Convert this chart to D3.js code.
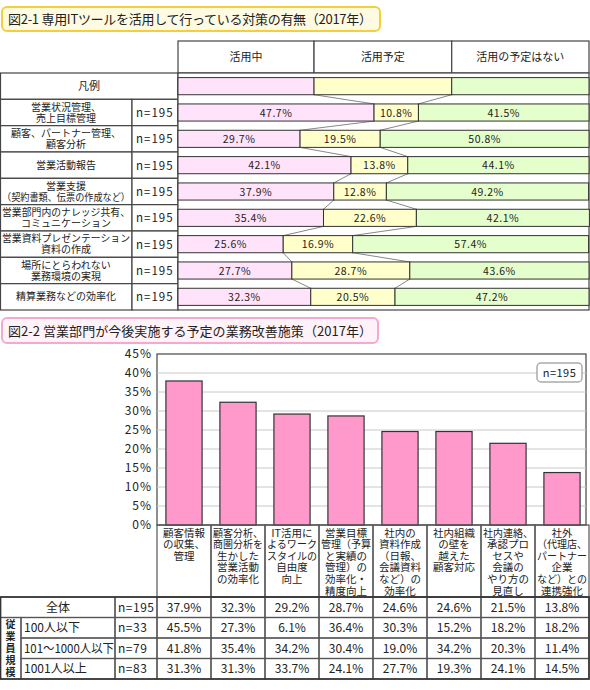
<!DOCTYPE html>
<html><head><meta charset="utf-8">
<script src="https://cdn.jsdelivr.net/npm/d3@7"></script>
<style>body{margin:0;background:#fff}svg{display:block;font-family:"Noto Sans CJK JP","Noto Sans",sans-serif}
.ml{font-family:"Liberation Sans","Noto Sans CJK JP",sans-serif}</style>
</head><body><svg id="c" width="590" height="690"></svg>
<script>
// ---------- DATA ----------
const title1 = "図2-1 専用ITツールを活用して行っている対策の有無（2017年）";
const title2 = "図2-2 営業部門が今後実施する予定の業務改善施策（2017年）";
const topHeaders = ["活用中", "活用予定", "活用の予定はない"];
const legendLabel = "凡例";
const legendShares = [33.1, 33.5, 33.4];
const topCategories = [
  ["営業状況管理、", "売上目標管理"],
  ["顧客、パートナー管理、", "顧客分析"],
  ["営業活動報告"],
  ["営業支援", "（契約書類、伝票の作成など）"],
  ["営業部門内のナレッジ共有、", "コミュニケーション"],
  ["営業資料プレゼンテーション", "資料の作成"],
  ["場所にとらわれない", "業務環境の実現"],
  ["精算業務などの効率化"]
];
const topN = ["n=195", "n=195", "n=195", "n=195", "n=195", "n=195", "n=195", "n=195"];
const topUsing   = [47.7, 29.7, 42.1, 37.9, 35.4, 25.6, 27.7, 32.3];
const topPlanned = [10.8, 19.5, 13.8, 12.8, 22.6, 16.9, 28.7, 20.5];
const topNone    = [41.5, 50.8, 44.1, 49.2, 42.1, 57.4, 43.6, 47.2];

const bottomCategories = [
  ["顧客情報", "の収集、", "管理"],
  ["顧客分析、", "商圏分析を", "生かした", "営業活動", "の効率化"],
  ["IT活用に", "よるワーク", "スタイルの", "自由度", "向上"],
  ["営業目標", "管理（予算", "と実績の", "管理）の", "効率化・", "精度向上"],
  ["社内の", "資料作成", "（日報、", "会議資料", "など）の", "効率化"],
  ["社内組織", "の壁を", "越えた", "顧客対応"],
  ["社内連絡、", "承認プロ", "セスや", "会議の", "やり方の", "見直し"],
  ["社外", "（代理店、", "パートナー", "企業", "など）との", "連携強化"]
];
const yTicks = [0, 5, 10, 15, 20, 25, 30, 35, 40, 45];
const legendN = "n=195";
const groupNames = ["全体", "100人以下", "101～1000人以下", "1001人以上"];
const groupN = ["n=195", "n=33", "n=79", "n=83"];
const sizeHeader = "従業員規模";
const valTotal  = [37.9, 32.3, 29.2, 28.7, 24.6, 24.6, 21.5, 13.8];
const valSmall  = [45.5, 27.3, 6.1, 36.4, 30.3, 15.2, 18.2, 18.2];
const valMid    = [41.8, 35.4, 34.2, 30.4, 19.0, 34.2, 20.3, 11.4];
const valLarge  = [31.3, 31.3, 33.7, 24.1, 27.7, 19.3, 24.1, 14.5];

// ---------- DRAW ----------
const svg = d3.select("#c");
const ink = "#222";
const lineC = "#444";
const pinkL = "#ffe3fb", yellowL = "#ffffcc", greenL = "#e4ffcc";

function fitText(sel, maxW) {
  sel.each(function () {
    const l = this.getComputedTextLength();
    if (l > maxW) { d3.select(this).attr("textLength", maxW).attr("lengthAdjust", "spacingAndGlyphs"); }
  });
}
// multi-line text as one <text> with tspans
function multiLine(parent, lines, x, y, lh, size, anchor, maxW) {
  const t = parent.append("text").attr("class", "ml").attr("x", x).attr("y", y).attr("text-anchor", anchor)
    .attr("font-size", size).attr("fill", ink);
  lines.forEach((s, j) => {
    const ts = t.append("tspan").attr("x", x).attr("dy", j === 0 ? 0 : lh).text(s);
    if (maxW) ts.call(fitText, maxW);
  });
  return t;
}

// Title 1
svg.append("rect").attr("x", 2).attr("y", 7).attr("width", 378).attr("height", 24).attr("rx", 5)
  .attr("fill", "#fffbe3").attr("stroke", "#f3cf3c").attr("stroke-width", 2);
svg.append("text").attr("x", 8).attr("y", 24).attr("font-size", 13).attr("fill", ink)
  .attr("textLength", 364).attr("lengthAdjust", "spacing").text(title1);

// Top chart scales
const xT = d3.scaleLinear().domain([0, 100]).range([178, 589]);
const rowsKeys = ["legend"].concat(topCategories.map((d, i) => "r" + i));
const yT = d3.scaleBand().domain(rowsKeys).range([73, 310]).paddingInner(0.35).paddingOuter(0.175);
const step = yT.step();
const rowTop = k => yT(k) - step * 0.175;

const topRows = [{ key: "legend", vals: legendShares, legend: true }]
  .concat(topCategories.map((c, i) => ({ key: "r" + i, vals: [topUsing[i], topPlanned[i], topNone[i]], label: c, n: topN[i] })));

// header cells
const headerBounds = [0, legendShares[0], legendShares[0] + legendShares[1], 100];
topHeaders.forEach((h, i) => {
  const x0 = xT(headerBounds[i]), x1 = xT(headerBounds[i + 1]);
  svg.append("rect").attr("x", x0).attr("y", 41).attr("width", x1 - x0).attr("height", 32)
    .attr("fill", "#fff").attr("stroke", lineC).attr("stroke-width", 1.2);
  svg.append("text").attr("x", (x0 + x1) / 2).attr("y", 61).attr("text-anchor", "middle")
    .attr("font-size", 11).attr("fill", ink).text(h);
});

// left table
const tableG = svg.append("g");
topRows.forEach((r, i) => {
  const y0 = rowTop(r.key), h = step;
  if (r.legend) {
    tableG.append("rect").attr("x", 0.5).attr("y", y0).attr("width", 177.5).attr("height", h)
      .attr("fill", "#fff").attr("stroke", lineC).attr("stroke-width", 1.2);
    tableG.append("text").attr("x", 89).attr("y", y0 + h / 2 + 4).attr("text-anchor", "middle")
      .attr("font-size", 11).attr("fill", ink).text(legendLabel);
  } else {
    tableG.append("rect").attr("x", 0.5).attr("y", y0).attr("width", 131.5).attr("height", h)
      .attr("fill", "#fff").attr("stroke", lineC).attr("stroke-width", 1.2);
    tableG.append("rect").attr("x", 132).attr("y", y0).attr("width", 46).attr("height", h)
      .attr("fill", "#fff").attr("stroke", lineC).attr("stroke-width", 1.2);
    const lines = r.label;
    const lh = 10.8;
    const startY = y0 + h / 2 - (lines.length - 1) * lh / 2 + 3.6;
    multiLine(tableG, lines, 66, startY, lh, 10, "middle", 128);
    tableG.append("text").attr("x", 136).attr("y", y0 + h / 2 + 4.5)
      .attr("font-size", 11.5).attr("fill", ink).attr("letter-spacing", 1).text(r.n);
  }
});

// right chart frame
svg.append("rect").attr("x", 178).attr("y", 73).attr("width", 411).attr("height", 237)
  .attr("fill", "#fff").attr("stroke", lineC).attr("stroke-width", 1.2);

// connector lines
const cum = r => [r.vals[0], r.vals[0] + r.vals[1]];
for (let i = 0; i < topRows.length - 1; i++) {
  const a = topRows[i], b = topRows[i + 1];
  const ya = yT(a.key) + yT.bandwidth(), yb = yT(b.key);
  [0, 1].forEach(k => {
    svg.append("line").attr("x1", xT(cum(a)[k])).attr("y1", ya).attr("x2", xT(cum(b)[k])).attr("y2", yb)
      .attr("stroke", "#888").attr("stroke-width", 1);
  });
}

// bars
const fills = [pinkL, yellowL, greenL];
topRows.forEach(r => {
  let acc = 0;
  r.vals.forEach((v, k) => {
    const x0 = xT(acc), x1 = xT(acc + v);
    svg.append("rect").attr("x", x0).attr("y", yT(r.key)).attr("width", x1 - x0).attr("height", yT.bandwidth())
      .attr("fill", fills[k]).attr("stroke", "#333").attr("stroke-width", 1);
    if (!r.legend) {
      svg.append("text").attr("x", (x0 + x1) / 2).attr("y", yT(r.key) + yT.bandwidth() / 2 + 4)
        .attr("text-anchor", "middle").attr("font-size", 10.5).attr("fill", ink).attr("letter-spacing", 0.5)
        .text(v.toFixed(1) + "%");
    }
    acc += v;
  });
});

// Title 2
svg.append("rect").attr("x", 2).attr("y", 318).attr("width", 376).attr("height", 25).attr("rx", 5)
  .attr("fill", "#fff2f8").attr("stroke", "#f4a9d0").attr("stroke-width", 2);
svg.append("text").attr("x", 8).attr("y", 336).attr("font-size", 13).attr("fill", ink)
  .attr("textLength", 364).attr("lengthAdjust", "spacing").text(title2);

// Bottom chart
const xB = d3.scaleBand().domain(d3.range(bottomCategories.length)).range([157, 589]).paddingInner(0.33).paddingOuter(0.165);
const stepB = xB.step();
const colL = i => xB(i) - stepB * 0.165;
const yB = d3.scaleLinear().domain([0, 45]).range([525, 354]);

svg.append("rect").attr("x", 157).attr("y", 354).attr("width", 429).attr("height", 171)
  .attr("fill", "#fff").attr("stroke", lineC).attr("stroke-width", 1.2);
svg.append("g").selectAll("line").data(yTicks.filter(t => t > 0 && t < 45)).join("line")
  .attr("x1", 157).attr("x2", 586).attr("y1", d => yB(d)).attr("y2", d => yB(d))
  .attr("stroke", "#c8c8c8").attr("stroke-width", 1);

const yAxis = d3.axisLeft(yB).tickValues(yTicks).tickSize(0).tickPadding(5).tickFormat(d => d + "%");
const yg = svg.append("g").attr("transform", "translate(157,0)").call(yAxis);
yg.select(".domain").remove();
yg.selectAll("text").attr("font-size", 12).attr("fill", ink).attr("letter-spacing", 1)
  .style("font-family", '"Noto Sans CJK JP",sans-serif');

svg.append("g").selectAll("rect").data(valTotal).join("rect")
  .attr("x", (d, i) => xB(i)).attr("width", xB.bandwidth())
  .attr("y", d => yB(d)).attr("height", d => yB(0) - yB(d))
  .attr("fill", "#ff99cc").attr("stroke", "#333").attr("stroke-width", 1.2);

// n=195 box
svg.append("rect").attr("x", 537).attr("y", 363).attr("width", 45).attr("height", 19).attr("rx", 4)
  .attr("fill", "#fff").attr("stroke", "#aaa").attr("stroke-width", 1.5);
svg.append("text").attr("x", 559.5).attr("y", 377).attr("text-anchor", "middle").attr("font-size", 11)
  .attr("fill", ink).attr("letter-spacing", 0.5).text(legendN);

// category label cells
const gridC = "#555";
bottomCategories.forEach((lines, i) => {
  const x0 = colL(i);
  svg.append("rect").attr("x", x0).attr("y", 525).attr("width", stepB).attr("height", 72)
    .attr("fill", "none").attr("stroke", gridC).attr("stroke-width", 1.2);
  multiLine(svg, lines, x0 + stepB / 2, 536.5, 11.6, 10.5, "middle", stepB - 4);
});

// data table
const groupVals = [valTotal, valSmall, valMid, valLarge];
const rowH = 20.5, tTop = 597;
groupVals.forEach((vals, r) => {
  const y0 = tTop + r * rowH;
  if (r === 0) {
    svg.append("rect").attr("x", 0.5).attr("y", y0).attr("width", 114.5).attr("height", rowH)
      .attr("fill", "none").attr("stroke", gridC).attr("stroke-width", 1.2);
    svg.append("text").attr("x", 58).attr("y", y0 + 14.5).attr("text-anchor", "middle").attr("font-size", 12)
      .attr("fill", ink).text(groupNames[r]);
  } else {
    svg.append("rect").attr("x", 21).attr("y", y0).attr("width", 94).attr("height", rowH)
      .attr("fill", "none").attr("stroke", gridC).attr("stroke-width", 1.2);
    svg.append("text").attr("x", 24).attr("y", y0 + 14.5).attr("font-size", 12)
      .attr("fill", ink).text(groupNames[r]).call(fitText, 90);
  }
  svg.append("rect").attr("x", 115).attr("y", y0).attr("width", 42).attr("height", rowH)
    .attr("fill", "none").attr("stroke", gridC).attr("stroke-width", 1.2);
  svg.append("text").attr("x", 118).attr("y", y0 + 14.5).attr("font-size", 12).attr("letter-spacing", 0.5)
    .attr("fill", ink).text(groupN[r]);
  vals.forEach((v, i) => {
    const x0 = colL(i);
    svg.append("rect").attr("x", x0).attr("y", y0).attr("width", stepB).attr("height", rowH)
      .attr("fill", "none").attr("stroke", gridC).attr("stroke-width", 1.2);
    svg.append("text").attr("x", x0 + stepB / 2).attr("y", y0 + 14.5).attr("text-anchor", "middle")
      .attr("font-size", 12).attr("fill", ink).text(v.toFixed(1) + "%");
  });
});
// vertical header 従業員規模
svg.append("rect").attr("x", 0.5).attr("y", tTop + rowH).attr("width", 20.5).attr("height", rowH * 3)
  .attr("fill", "none").attr("stroke", gridC).attr("stroke-width", 1.2);
multiLine(svg, Array.from(sizeHeader), 10.5, tTop + rowH + 10.5, 12, 10, "middle")
  .attr("font-weight", "bold");
// outer table border
svg.append("rect").attr("x", 0.5).attr("y", tTop).attr("width", 588.5).attr("height", rowH * 4)
  .attr("fill", "none").attr("stroke", "#333").attr("stroke-width", 1.6);
</script></body></html>
